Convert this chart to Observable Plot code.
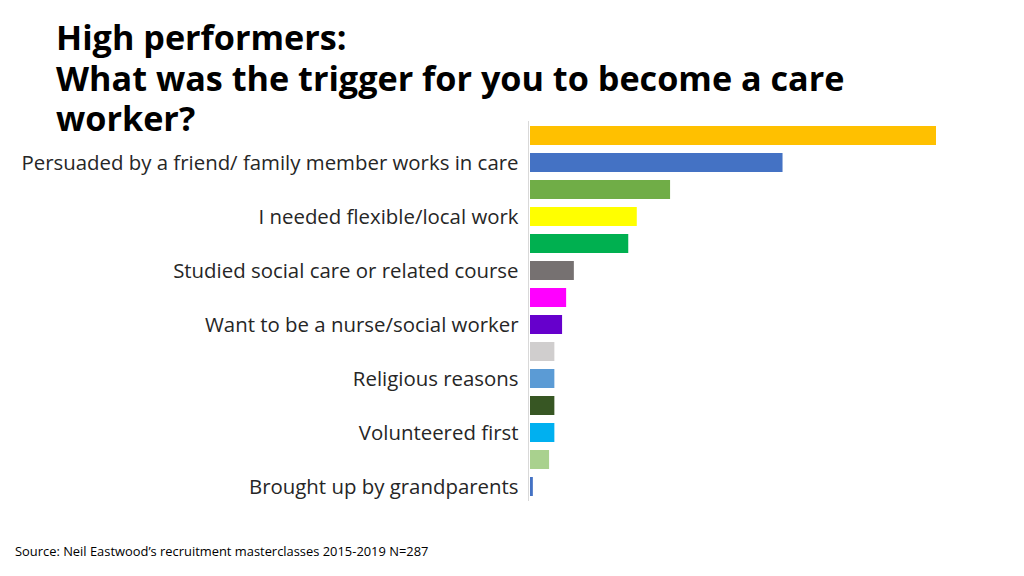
<!DOCTYPE html>
<html>
<head>
<meta charset="utf-8">
<script src="https://cdn.jsdelivr.net/npm/d3@7"></script>
<script src="https://cdn.jsdelivr.net/npm/@observablehq/plot@0.6"></script>
<style>
  html, body { margin: 0; padding: 0; background: #fff; }
  #wrap { position: relative; width: 1024px; height: 576px; overflow: hidden; font-family: "Open Sans", sans-serif; }
  #title { position: absolute; left: 56px; top: 17px; font-size: 34.2px; font-weight: 700; color: #000; z-index: 2; margin: 0; }
  #title div { height: 40.5px; line-height: 40.5px; white-space: nowrap; }
  #caption { position: absolute; left: 15px; top: 542px; font-size: 12.9px; color: #000; }
  #chart { position: absolute; left: 0; top: 0; }
</style>
</head>
<body>
<div id="wrap">
  <h1 id="title"><div>High performers:</div><div>What was the trigger for you to become a care</div><div>worker?</div></h1>
  <div id="chart"></div>
  <div id="caption">Source: Neil Eastwood’s recruitment masterclasses 2015-2019 N=287</div>
</div>
<script>
const categories = [
  "Other reason A",
  "Persuaded by a friend/ family member works in care",
  "Other reason B",
  "I needed flexible/local work",
  "Other reason C",
  "Studied social care or related course",
  "Other reason D",
  "Want to be a nurse/social worker",
  "Other reason E",
  "Religious reasons",
  "Other reason F",
  "Volunteered first",
  "Other reason G",
  "Brought up by grandparents"
];
const values = [100, 62.2, 34.5, 26.3, 24.2, 10.8, 8.9, 7.9, 6, 6, 6, 6, 4.7, 0.7];
const colors = ["#FFC000", "#4472C4", "#70AD47", "#FFFF00", "#00B050", "#767171", "#FF00FF",
                "#6600CC", "#D0CECE", "#5B9BD5", "#375623", "#00B0F0", "#A9D18E", "#4472C4"];
const shownLabels = ["Persuaded by a friend/ family member works in care", "I needed flexible/local work",
  "Studied social care or related course", "Want to be a nurse/social worker", "Religious reasons",
  "Volunteered first", "Brought up by grandparents"];

const data = categories.map((c, i) => ({category: c, value: values[i], color: colors[i]}));

const chart = Plot.plot({
  width: 1024,
  height: 576,
  marginLeft: 530,
  marginRight: 88,
  marginTop: 121,
  marginBottom: 75,
  style: {fontFamily: "Open Sans", fontSize: "20.4px", color: "#262626", background: "transparent"},
  x: {domain: [0, 100], axis: null},
  y: {domain: categories, paddingInner: 0.3, paddingOuter: 0.15, label: null},
  color: {type: "identity"},
  marks: [
    Plot.ruleX([0], {stroke: "#d9d9d9", dx: -2}),
    Plot.barX(data, {x: "value", y: "category", fill: "color"}),
    Plot.axisY({tickSize: 0, tickPadding: 12, label: null,
      tickFormat: d => shownLabels.includes(d) ? d : "", fontSize: 20.4})
  ]
});
document.getElementById("chart").appendChild(chart);
</script>
</body>
</html>
